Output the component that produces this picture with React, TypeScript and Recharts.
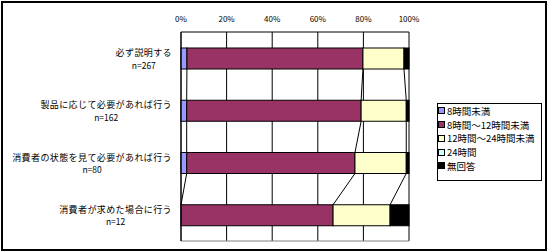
import { BarChart, Bar, XAxis, YAxis, CartesianGrid, Legend } from "recharts";

const categories = [
  "必ず説明する",
  "製品に応じて必要があれば行う",
  "消費者の状態を見て必要があれば行う",
  "消費者が求めた場合に行う",
];
const counts = ["n=267", "n=162", "n=80", "n=12"];

const seriesNames = ["8時間未満", "8時間～12時間未満", "12時間～24時間未満", "24時間", "無回答"];
const seriesColors = ["#9999FF", "#993366", "#FFFFCC", "#CCFFFF", "#000000"];

// percent of each answer group
const under8 = [2.6, 2.5, 2.5, 0];
const from8to12 = [77.2, 76.5, 73.8, 66.7];
const from12to24 = [18.0, 19.8, 22.5, 25.0];
const hours24 = [0, 0, 0, 0];
const noAnswer = [2.2, 1.2, 1.2, 8.3];

const percentTicks = [0, 20, 40, 60, 80, 100];

const seriesValues = [under8, from8to12, from12to24, hours24, noAnswer];
const data = categories.map((name, i) => {
  const row: Record<string, string | number> = { name };
  seriesValues.forEach((vals, s) => (row["s" + s] = vals[i]));
  return row;
});

const FONT = "'Noto Sans CJK JP', 'Noto Sans', sans-serif";

// remembers the previous bar edges so the series lines can join them
const edges: Record<string, { l: number; r: number; b: number }> = {};

function makeShape(key: string | null, drawLeft: boolean) {
  return (p: any) => {
    const { x, y, width, height, index, fill } = p;
    let prev;
    if (key) {
      prev = index > 0 ? edges[key] : undefined;
      edges[key] = { l: x, r: x + width, b: y + height };
    }
    return (
      <g>
        {width > 0 && (
          <rect x={x} y={y} width={width} height={height} fill={fill} stroke="#000" strokeWidth={1} />
        )}
        {prev && drawLeft && <line x1={prev.l} y1={prev.b} x2={x} y2={y} stroke="#000" strokeWidth={1} />}
        {prev && <line x1={prev.r} y1={prev.b} x2={x + width} y2={y} stroke="#000" strokeWidth={1} />}
      </g>
    );
  };
}

function PercentTick({ x, y, payload }: any) {
  return (
    <text x={x} y={y - 10} textAnchor="middle" fontSize={8} fontFamily={FONT} fill="#000">
      {payload.value + "%"}
    </text>
  );
}

function CategoryTick({ x, y, payload }: any) {
  const i = categories.indexOf(payload.value);
  const right = x - 9;
  const w = String(payload.value).length * 9.4;
  return (
    <g fontFamily={FONT} fill="#000">
      <text x={right} y={y - 2} textAnchor="end" fontSize={9} letterSpacing={0.4}>
        {payload.value}
      </text>
      <text x={right - w / 2} y={y + 10.6} textAnchor="middle" fontSize={8.5}>
        {counts[i]}
      </text>
    </g>
  );
}

function LegendBox() {
  return (
    <div
      style={{
        width: 105,
        height: 78,
        boxSizing: "border-box",
        border: "1px solid #000",
        background: "#fff",
        fontFamily: FONT,
        fontSize: 9.5,
        color: "#000",
      }}
    >
      {seriesNames.map((name, i) => (
        <div key={name} style={{ display: "flex", alignItems: "center", height: 13.75, whiteSpace: "nowrap" }}>
          <span
            style={{
              display: "inline-block",
              width: 5,
              height: 5,
              marginLeft: 0,
              marginRight: 2,
              border: "1px solid #000",
              background: seriesColors[i],
            }}
          />
          <span>{name}</span>
        </div>
      ))}
    </div>
  );
}

export default function App() {
  return (
    <div style={{ position: "absolute", left: 0, top: 0, width: 548, height: 252, background: "#fff" }}>
      <BarChart
        width={548}
        height={252}
        data={data}
        layout="vertical"
        margin={{ top: 0, right: 139, bottom: 0, left: 0 }}
      >
        <CartesianGrid horizontal={false} stroke="#000" strokeDasharray="" />
        <XAxis
          type="number"
          orientation="top"
          domain={[0, 100]}
          ticks={percentTicks}
          height={32}
          axisLine={{ stroke: "#000" }}
          tickLine={false}
          tickSize={0}
          tickMargin={0}
          tick={<PercentTick />}
        />
        <XAxis
          xAxisId="bottom"
          type="number"
          orientation="bottom"
          domain={[0, 100]}
          height={11}
          axisLine={{ stroke: "#808080" }}
          tickLine={false}
          tick={false}
        />
        <YAxis
          type="category"
          dataKey="name"
          width={181}
          axisLine={{ stroke: "#000" }}
          tickLine={false}
          tickSize={0}
          tickMargin={0}
          tick={<CategoryTick />}
          interval={0}
        />
        <YAxis
          yAxisId="right"
          type="category"
          dataKey="name"
          orientation="right"
          width={0}
          axisLine={{ stroke: "#808080" }}
          tickLine={false}
          tick={false}
        />
        <Legend
          layout="vertical"
          align="center"
          verticalAlign="middle"
          wrapperStyle={{ left: 437, top: 103, width: 105 }}
          content={() => <LegendBox />}
        />
        {seriesNames.map((name, s) => (
          <Bar
            key={name}
            dataKey={"s" + s}
            name={name}
            stackId="a"
            fill={seriesColors[s]}
            barSize={21}
            isAnimationActive={false}
            shape={makeShape(s === 1 ? "mid" : s === 2 ? "hi" : null, s === 1)}
          />
        ))}
      </BarChart>
      <div
        style={{
          position: "absolute",
          left: 1,
          top: 1,
          width: 546,
          height: 250,
          boxSizing: "border-box",
          border: "2px solid #000",
          pointerEvents: "none",
        }}
      />
    </div>
  );
}
